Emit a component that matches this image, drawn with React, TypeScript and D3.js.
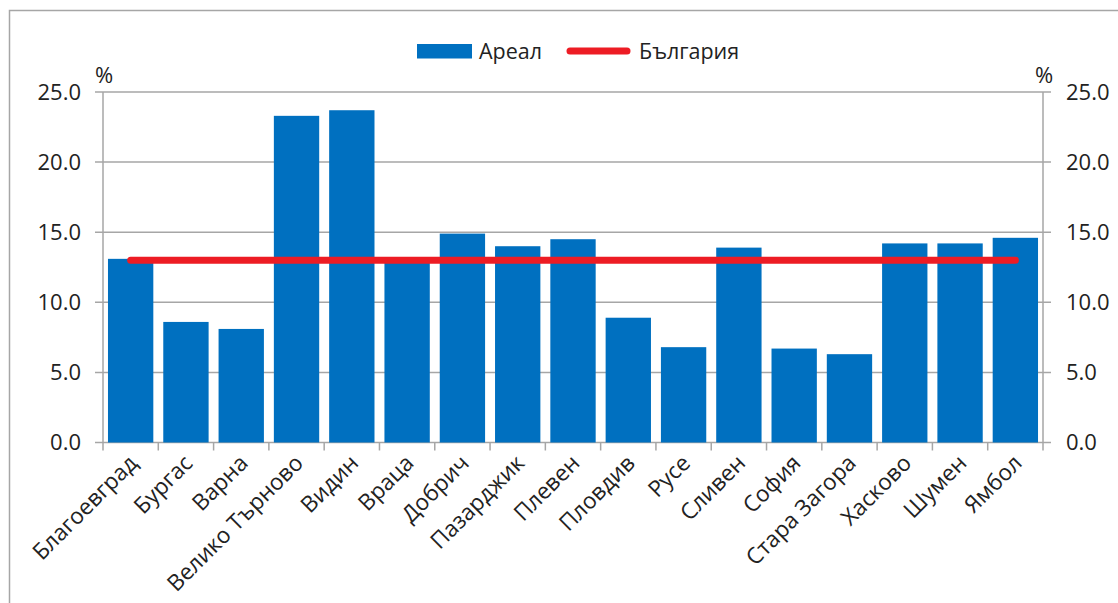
import React, { useEffect, useRef } from 'react';
import * as d3 from 'd3';

const regions = [
  'Благоевград', 'Бургас', 'Варна', 'Велико Търново', 'Видин', 'Враца', 'Добрич',
  'Пазарджик', 'Плевен', 'Пловдив', 'Русе', 'Сливен', 'София', 'Стара Загора',
  'Хасково', 'Шумен', 'Ямбол',
];
const arealValues = [13.1, 8.6, 8.1, 23.3, 23.7, 13.0, 14.9, 14.0, 14.5, 8.9, 6.8, 13.9, 6.7, 6.3, 14.2, 14.2, 14.6];
const bulgariaValue = 13.0;
const yTicks = [0, 5, 10, 15, 20, 25];
const seriesNames = ['Ареал', 'България'];

const App = () => {
  const ref = useRef<HTMLDivElement>(null);

  useEffect(() => {
    document.body.style.margin = '0';
    const W = 1118;
    const H = 603;
    const left = 103;
    const right = 1043;
    const top = 92;
    const bottom = 442.5;
    const font = '"Open Sans", sans-serif';
    const grey = '#a6a6a6';

    d3.select(ref.current).selectAll('*').remove();
    const svg = d3
      .select(ref.current)
      .append('svg')
      .attr('width', W)
      .attr('height', H)
      .style('display', 'block')
      .style('font-family', font);

    svg.append('rect')
      .attr('x', 9.5).attr('y', 10.5)
      .attr('width', W).attr('height', H)
      .attr('fill', 'white')
      .attr('stroke', grey)
      .attr('stroke-width', 1.5);

    const x = d3.scaleBand().domain(regions).range([left, right]).paddingInner(0.18).paddingOuter(0.09);
    const y = d3.scaleLinear().domain([0, 25]).range([bottom, top]);

    // gridlines + tick marks
    svg.append('g')
      .selectAll('line')
      .data(yTicks)
      .enter()
      .append('line')
      .attr('x1', left - 8)
      .attr('x2', right + 8)
      .attr('y1', d => y(d))
      .attr('y2', d => y(d))
      .attr('stroke', grey)
      .attr('stroke-width', 1.5);

    // category ticks
    const step = (right - left) / regions.length;
    svg.append('g')
      .selectAll('line')
      .data(d3.range(regions.length + 1))
      .enter()
      .append('line')
      .attr('x1', i => left + i * step)
      .attr('x2', i => left + i * step)
      .attr('y1', bottom)
      .attr('y2', bottom + 8)
      .attr('stroke', grey)
      .attr('stroke-width', 1.5);

    [left, right].forEach(ax => {
      svg.append('line')
        .attr('x1', ax).attr('x2', ax)
        .attr('y1', top).attr('y2', bottom)
        .attr('stroke', grey)
        .attr('stroke-width', 1.5);
    });

    // bars
    svg.append('g')
      .selectAll('rect')
      .data(arealValues)
      .enter()
      .append('rect')
      .attr('x', (d, i) => x(regions[i]) as number)
      .attr('width', x.bandwidth())
      .attr('y', d => y(d))
      .attr('height', d => bottom - y(d))
      .attr('fill', '#0070c0');

    // Bulgaria line
    const line = d3.line<string>()
      .x(d => (x(d) as number) + x.bandwidth() / 2)
      .y(() => y(bulgariaValue));
    svg.append('path')
      .attr('d', line(regions))
      .attr('fill', 'none')
      .attr('stroke', '#ed1c24')
      .attr('stroke-width', 7)
      .attr('stroke-linecap', 'round');

    // y tick labels
    const fmt = d3.format('.1f');
    svg.append('g')
      .selectAll('text')
      .data(yTicks)
      .enter()
      .append('text')
      .attr('x', 81)
      .attr('y', d => y(d))
      .attr('dy', '0.35em')
      .attr('text-anchor', 'end')
      .style('font-size', '22px')
      .style('fill', '#222')
      .text(d => fmt(d));
    svg.append('g')
      .selectAll('text')
      .data(yTicks)
      .enter()
      .append('text')
      .attr('x', 1066)
      .attr('y', d => y(d))
      .attr('dy', '0.35em')
      .attr('text-anchor', 'start')
      .style('font-size', '22px')
      .style('fill', '#222')
      .text(d => fmt(d));

    svg.append('text').attr('x', 95).attr('y', 83).style('font-size', '22px').style('fill', '#222').text('%');
    svg.append('text').attr('x', 1035).attr('y', 83).style('font-size', '22px').style('fill', '#222').text('%');

    // category labels
    svg.append('g')
      .selectAll('text')
      .data(regions)
      .enter()
      .append('text')
      .attr('transform', d => `translate(${(x(d) as number) + x.bandwidth() / 2 + 8},${bottom + 22}) rotate(-45)`)
      .attr('text-anchor', 'end')
      .style('font-size', '22.5px')
      .style('fill', '#222')
      .text(d => d);

    // legend
    const legend = svg.append('g');
    legend.append('rect')
      .attr('x', 417).attr('y', 44)
      .attr('width', 55).attr('height', 14.5)
      .attr('fill', '#0070c0');
    legend.append('text')
      .attr('x', 479).attr('y', 51).attr('dy', '0.35em')
      .style('font-size', '21.5px').style('fill', '#222')
      .text(seriesNames[0]);
    legend.append('line')
      .attr('x1', 570).attr('x2', 627)
      .attr('y1', 51).attr('y2', 51)
      .attr('stroke', '#ed1c24')
      .attr('stroke-width', 7)
      .attr('stroke-linecap', 'round');
    legend.append('text')
      .attr('x', 639).attr('y', 51).attr('dy', '0.35em')
      .style('font-size', '21.5px').style('fill', '#222')
      .text(seriesNames[1]);
  }, []);

  return <div ref={ref}></div>;
};

export default App;
